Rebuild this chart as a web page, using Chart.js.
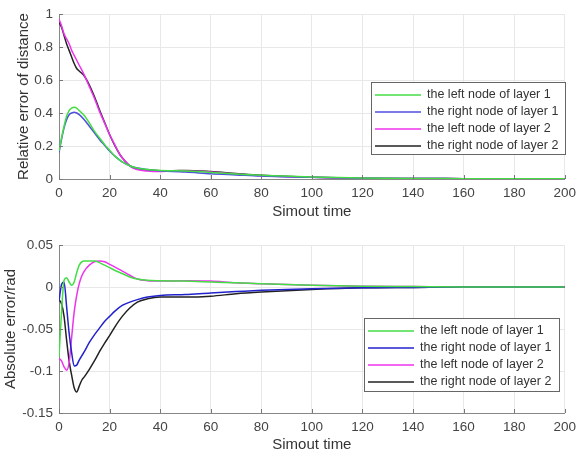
<!DOCTYPE html>
<html>
<head>
<meta charset="utf-8">
<script src="https://cdn.jsdelivr.net/npm/chart.js@4.4.1/dist/chart.umd.min.js"></script>
<style>
  html, body { margin: 0; padding: 0; background: #fff; }
  .panel { position: absolute; left: 0; width: 582px; height: 230px; }
</style>
</head>
<body>
<div class="panel" style="top:0"><canvas id="chart-1"></canvas></div>
<div class="panel" style="top:230px"><canvas id="chart-2"></canvas></div>
<script>
const seriesNames = [
  "the left node of layer 1",
  "the right node of layer 1",
  "the left node of layer 2",
  "the right node of layer 2",
];

// top panel: relative error of distance
const timeTop = [0, 1, 2, 3, 4, 5, 6, 7, 8, 10, 12, 14, 16, 18, 20, 22, 24, 26, 28, 30, 35, 40, 45, 50, 60, 70, 80, 100, 120, 140, 160, 180, 200];
const relLeft1 = [0.17, 0.25, 0.32, 0.38, 0.415, 0.43, 0.435, 0.43, 0.415, 0.385, 0.34, 0.29, 0.25, 0.21, 0.175, 0.14, 0.115, 0.095, 0.08, 0.07, 0.057, 0.052, 0.05, 0.048, 0.04, 0.03, 0.022, 0.012, 0.006, 0.003, 0.002, 0.001, 0.001];
const relRight1 = [0.16, 0.24, 0.31, 0.36, 0.39, 0.4, 0.405, 0.4, 0.39, 0.36, 0.32, 0.28, 0.24, 0.205, 0.17, 0.14, 0.115, 0.095, 0.08, 0.07, 0.058, 0.05, 0.045, 0.042, 0.032, 0.025, 0.018, 0.01, 0.005, 0.003, 0.002, 0.001, 0.001];
const relLeft2 = [0.97, 0.93, 0.88, 0.85, 0.82, 0.78, 0.75, 0.72, 0.69, 0.63, 0.56, 0.49, 0.41, 0.34, 0.27, 0.21, 0.15, 0.11, 0.08, 0.062, 0.048, 0.045, 0.048, 0.048, 0.042, 0.03, 0.02, 0.01, 0.005, 0.003, 0.002, 0.001, 0.001];
const relRight2 = [0.95, 0.92, 0.87, 0.82, 0.78, 0.74, 0.7, 0.67, 0.655, 0.625, 0.57, 0.5, 0.42, 0.345, 0.27, 0.205, 0.15, 0.11, 0.08, 0.065, 0.055, 0.05, 0.05, 0.052, 0.045, 0.033, 0.022, 0.01, 0.005, 0.003, 0.002, 0.001, 0.001];

// bottom panel: absolute error (rad)
const timeBottom = [0, 1, 2, 3, 4, 5, 6, 7, 8, 9, 10, 12, 14, 16, 18, 20, 22, 25, 28, 31, 35, 40, 50, 60, 70, 80, 100, 120, 140, 160, 180, 200];
const absLeft1 = [-0.083, -0.03, 0.008, 0.011, 0.006, 0.002, 0.006, 0.017, 0.026, 0.03, 0.031, 0.031, 0.031, 0.029, 0.026, 0.023, 0.02, 0.016, 0.012, 0.0095, 0.008, 0.0075, 0.007, 0.006, 0.005, 0.004, 0.002, 0.001, 0.0005, 0, 0, 0];
const absRight1 = [-0.017, 0.003, 0.006, -0.023, -0.055, -0.078, -0.094, -0.093, -0.087, -0.082, -0.077, -0.066, -0.057, -0.049, -0.041, -0.035, -0.029, -0.022, -0.018, -0.015, -0.012, -0.01, -0.009, -0.007, -0.0055, -0.004, -0.002, -0.001, -0.0005, 0, 0, 0];
const absLeft2 = [-0.085, -0.088, -0.095, -0.099, -0.09, -0.06, -0.03, -0.01, 0.004, 0.013, 0.019, 0.026, 0.03, 0.031, 0.03, 0.027, 0.024, 0.019, 0.014, 0.0095, 0.0075, 0.007, 0.0075, 0.007, 0.005, 0.004, 0.002, 0.001, 0.0005, 0, 0, 0];
const absRight2 = [-0.015, -0.02, -0.035, -0.063, -0.088, -0.105, -0.12, -0.125, -0.118, -0.111, -0.107, -0.098, -0.088, -0.077, -0.067, -0.058, -0.048, -0.035, -0.025, -0.018, -0.014, -0.012, -0.012, -0.011, -0.008, -0.006, -0.003, -0.001, -0.0005, 0, 0, 0];

const colorsTop = ["#44dd44", "#4f4fdf", "#ee33ee", "#222222"];
const colorsBottom = ["#44dd44", "#2222cc", "#ee33ee", "#222222"];

Chart.defaults.font.family = "'Liberation Sans', Arial, sans-serif";
Chart.defaults.animation = false;

function points(xs, ys) {
  return xs.map((x, i) => ({ x: x, y: ys[i] }));
}

function makeSets(xs, list, colors) {
  return list.map((ys, i) => ({
    label: seriesNames[i],
    data: points(xs, ys),
    borderColor: colors[i],
    borderWidth: 1.5,
    pointRadius: 0,
    fill: false,
    cubicInterpolationMode: "monotone",
  }));
}

// boxed legend sitting inside the plot, like the matlab one
const boxLegend = {
  id: "boxLegend",
  afterDraw(chart, args, opts) {
    const ctx = chart.ctx;
    ctx.save();
    ctx.fillStyle = "#fff";
    ctx.fillRect(opts.x, opts.y, opts.w, opts.h);
    ctx.strokeStyle = "#666";
    ctx.lineWidth = 1;
    ctx.strokeRect(opts.x + 0.5, opts.y + 0.5, opts.w, opts.h);
    ctx.font = "12.5px 'Liberation Sans', Arial";
    ctx.textBaseline = "middle";
    chart.data.datasets.forEach((ds, i) => {
      const y = opts.y + opts.first + i * opts.step;
      ctx.strokeStyle = ds.borderColor;
      ctx.lineWidth = 1.5;
      ctx.beginPath();
      ctx.moveTo(opts.x + 4, y);
      ctx.lineTo(opts.x + 50, y);
      ctx.stroke();
      ctx.fillStyle = "#333";
      ctx.fillText(ds.label, opts.x + 56, y);
    });
    ctx.restore();
  },
};

// short inward tick marks on the left and bottom axes
const innerTicks = {
  id: "innerTicks",
  afterDatasetsDraw(chart) {
    const ctx = chart.ctx;
    const a = chart.chartArea;
    ctx.save();
    ctx.strokeStyle = "#777";
    ctx.lineWidth = 1;
    ctx.beginPath();
    chart.scales.x.ticks.forEach((t) => {
      const px = Math.round(chart.scales.x.getPixelForValue(t.value)) + 0.5;
      ctx.moveTo(px, a.bottom);
      ctx.lineTo(px, a.bottom - 4);
    });
    chart.scales.y.ticks.forEach((t) => {
      const py = Math.round(chart.scales.y.getPixelForValue(t.value)) + 0.5;
      ctx.moveTo(a.left, py);
      ctx.lineTo(a.left + 4, py);
    });
    ctx.stroke();
    ctx.restore();
  },
};

function axisOptions(cfg) {
  return {
    x: {
      type: "linear",
      min: 0,
      max: 200,
      ticks: { stepSize: 20, color: "#444", font: { size: 13.5 }, padding: 6, maxRotation: 0 },
      grid: { color: "#e8e8e8", drawTicks: false },
      border: { color: "#888" },
      title: { display: true, text: "Simout time", color: "#333", font: { size: 15 }, padding: { top: 0, bottom: cfg.xTitlePad } },
      afterFit: (s) => { s.height = cfg.xHeight; },
    },
    y: {
      min: cfg.yMin,
      max: cfg.yMax,
      ticks: { stepSize: cfg.yStep, color: "#444", font: { size: 13.5 }, padding: 6, callback: cfg.fmt },
      grid: { color: "#e8e8e8", drawTicks: false },
      border: { color: "#888" },
      title: { display: true, text: cfg.yTitle, color: "#333", font: { size: 15 }, padding: { top: cfg.yTitlePad, bottom: 0 } },
      afterFit: (s) => { s.width = 59; },
    },
  };
}

new Chart(document.getElementById("chart-1"), {
  type: "line",
  data: { datasets: makeSets(timeTop, [relLeft1, relRight1, relLeft2, relRight2], colorsTop) },
  plugins: [innerTicks, boxLegend],
  options: {
    responsive: true,
    maintainAspectRatio: false,
    layout: { padding: { left: 0, right: 15, top: 9, bottom: 0 } },
    scales: axisOptions({
      xHeight: 51, xTitlePad: 9,
      yMin: 0, yMax: 1, yStep: 0.2,
      yTitle: "Relative error of distance", yTitlePad: 15,
      fmt: (v) => String(+v.toFixed(2)),
    }),
    plugins: {
      legend: { display: false },
      tooltip: { enabled: false },
      boxLegend: { x: 371, y: 82, w: 194, h: 72, first: 13, step: 17 },
    },
  },
});

new Chart(document.getElementById("chart-2"), {
  type: "line",
  data: { datasets: makeSets(timeBottom, [absLeft1, absRight1, absLeft2, absRight2], colorsBottom) },
  plugins: [innerTicks, boxLegend],
  options: {
    responsive: true,
    maintainAspectRatio: false,
    layout: { padding: { left: 0, right: 15, top: 15, bottom: 0 } },
    scales: axisOptions({
      xHeight: 47, xTitlePad: 6,
      yMin: -0.15, yMax: 0.05, yStep: 0.05,
      yTitle: "Absolute error/rad", yTitlePad: 2,
      fmt: (v) => String(+v.toFixed(2)),
    }),
    plugins: {
      legend: { display: false },
      tooltip: { enabled: false },
      boxLegend: { x: 364, y: 88, w: 195, h: 73, first: 13, step: 17 },
    },
  },
});
</script>
</body>
</html>
